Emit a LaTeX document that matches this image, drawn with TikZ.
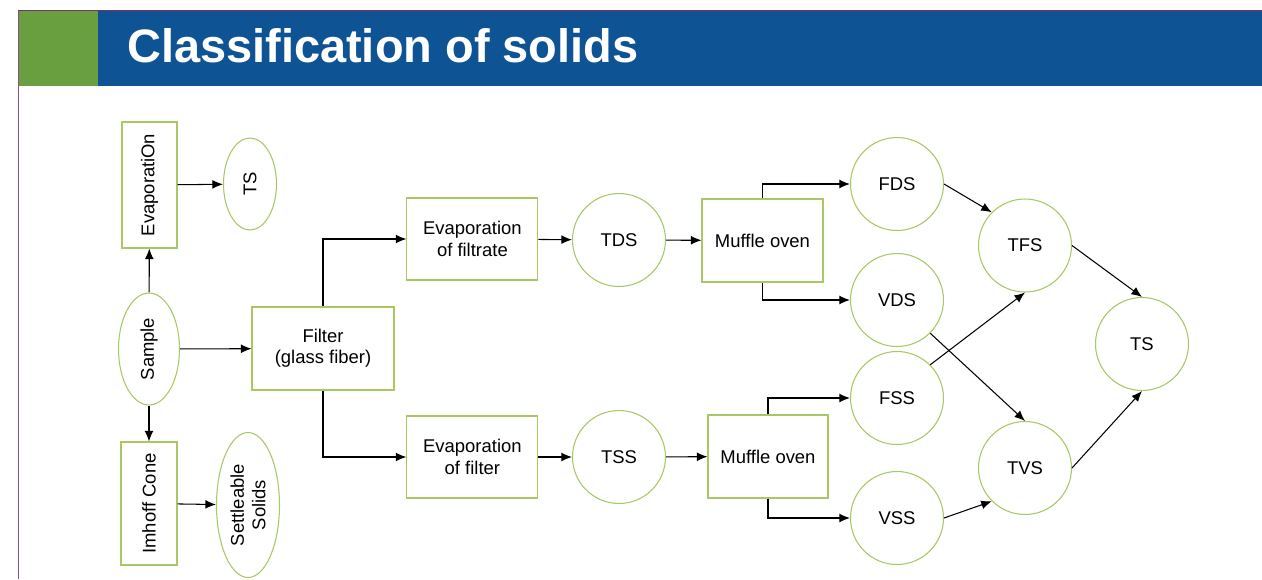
\documentclass[tikz,border=0pt]{standalone}
\usepackage{fontspec}
\setmainfont{Liberation Sans}
\usetikzlibrary{shapes.geometric,arrows.meta}
\definecolor{frame-purple}{HTML}{8E4C90}
\definecolor{frame-dark}{HTML}{7A2F6A}
\definecolor{title-green}{HTML}{6A9F40}
\definecolor{title-blue}{HTML}{0E5495}
\definecolor{node-green}{HTML}{A8C864}
\tikzset{
    process-box/.style = {draw=node-green, fill=white, line width=0.6pt, rectangle, align=center, inner sep=2pt, font=\fontsize{10.5}{12.2}\selectfont},
    solid-circle/.style = {draw=node-green, fill=white, line width=0.6pt, circle, minimum size=1.86cm, inner sep=0pt, font=\fontsize{10.5}{12.2}\selectfont},
    solid-oval/.style = {draw=node-green, fill=white, line width=0.6pt, ellipse, rotate=90, align=center, inner sep=0pt, font=\fontsize{10.5}{12.2}\selectfont},
    flow-arrow/.style = {-{Latex[length=6pt,width=5pt]}, line width=0.6pt},
}
\begin{document}
\begin{tikzpicture}[x=0.02cm, y=-0.02cm]
\useasboundingbox (0,0) rectangle (1262,579);
% header
\fill[title-green] (19,11) rectangle (98,86);
\fill[title-blue] (98,11) rectangle (1262,86);
\draw[frame-purple, line width=1pt] (18.5,579) -- (18.5,10.5);
\draw[frame-dark, line width=1pt] (18,10.5) -- (1262,10.5);
\node[anchor=west, text=white, font=\fontsize{26.7}{30}\selectfont\bfseries, inner sep=0pt] (title) at (127,46) {Classification of solids};

% left column
\node[process-box, rotate=90, minimum width=2.52cm, minimum height=1.1cm] (evap) at (149.5,185) {EvaporatiOn};
\node[solid-oval, minimum width=1.84cm, minimum height=1.06cm] (ts-small) at (250,184) {TS};
\node[solid-oval, minimum width=2.24cm, minimum height=1.22cm] (sample) at (149,349) {Sample};
\node[process-box, rotate=90, minimum width=2.46cm, minimum height=1.12cm] (imhoff) at (149,503.5) {Imhoff Cone};
\node[solid-oval, minimum width=2.9cm, minimum height=1.26cm] (settle) at (248,505) {Settleable\\Solids};
\node[process-box, minimum width=2.84cm, minimum height=1.66cm] (filter) at (323,348.5) {Filter\\(glass fiber)};

% filtrate branch
\node[process-box, minimum width=2.62cm, minimum height=1.64cm] (evap-filtrate) at (472.4,239) {Evaporation\\of filtrate};
\node[solid-circle] (tds) at (619,240) {TDS};
\node[process-box, minimum width=2.42cm, minimum height=1.66cm] (muffle-top) at (762.5,240.5) {Muffle oven};
\node[solid-circle] (fds) at (897,184) {FDS};
\node[solid-circle] (vds) at (897,300) {VDS};

% filter branch
\node[process-box, minimum width=2.62cm, minimum height=1.64cm] (evap-filter) at (472.4,457) {Evaporation\\of filter};
\node[solid-circle] (tss) at (619,457) {TSS};
\node[process-box, minimum width=2.4cm, minimum height=1.66cm] (muffle-bottom) at (768,456.5) {Muffle oven};
\node[solid-circle] (fss) at (897,398) {FSS};
\node[solid-circle] (vss) at (897,518) {VSS};

% totals
\node[solid-circle] (tfs) at (1025,245.5) {TFS};
\node[solid-circle] (tvs) at (1025,468) {TVS};
\node[solid-circle] (ts) at (1142,344) {TS};

% connectors
\draw[flow-arrow] (evap) -- (ts-small);
\draw[flow-arrow] (sample) -- (evap);
\draw[flow-arrow] (sample) -- (imhoff);
\draw[flow-arrow] (sample) -- (filter);
\draw[flow-arrow] (imhoff) -- (settle);
\draw[flow-arrow] (filter.north) |- (evap-filtrate);
\draw[flow-arrow] (filter.south) |- (evap-filter);
\draw[flow-arrow] (evap-filtrate) -- (tds);
\draw[flow-arrow] (tds) -- (muffle-top);
\draw[flow-arrow] (muffle-top.north) |- (fds);
\draw[flow-arrow] (muffle-top.south) |- (vds);
\draw[flow-arrow] (evap-filter) -- (tss);
\draw[flow-arrow] (tss) -- (muffle-bottom);
\draw[flow-arrow] (muffle-bottom.north) |- (fss);
\draw[flow-arrow] (muffle-bottom.south) |- (vss);
\draw[flow-arrow] (fds.east) -- (tfs.north west);
\draw[flow-arrow] (fss.north east) -- (tfs.south);
\draw[flow-arrow] (vds.south east) -- (tvs.north);
\draw[flow-arrow] (vss.east) -- (tvs.south west);
\draw[flow-arrow] (tfs.east) -- (ts.north);
\draw[flow-arrow] (tvs.east) -- (ts.south);
\end{tikzpicture}
\end{document}
